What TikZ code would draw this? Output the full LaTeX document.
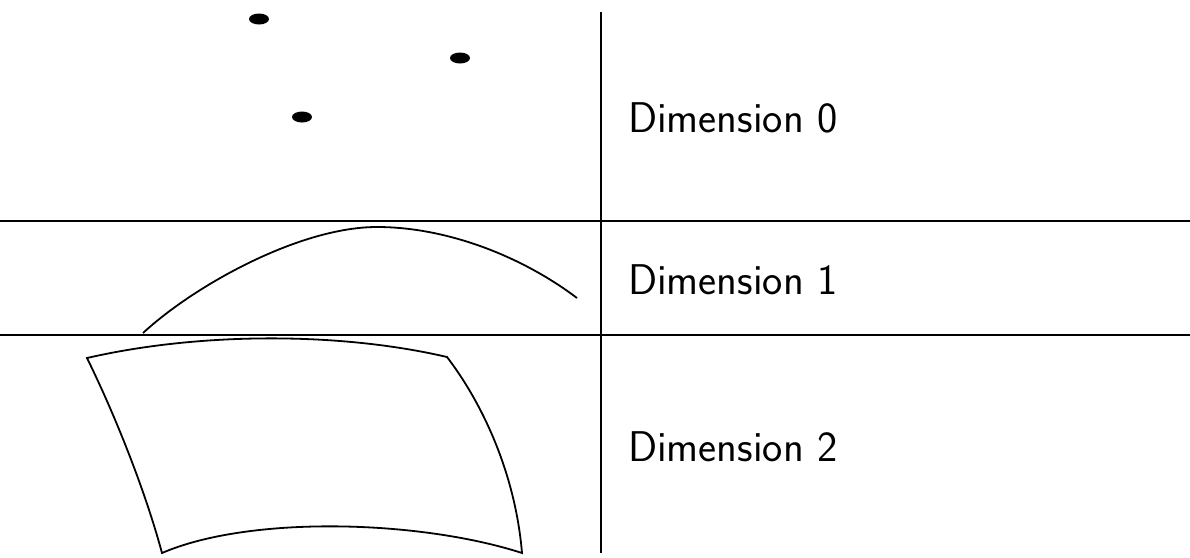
\documentclass[tikz,border=0pt]{standalone}
\begin{document}
\begin{tikzpicture}[x=1pt,y=-1pt,
  rule/.style={line width=1.3pt},
  figline/.style={line width=1.8pt},
  lbl/.style={anchor=base west,font=\sffamily\fontsize{43}{50}\selectfont,inner sep=0pt}]
\useasboundingbox (0,0) rectangle (1190,557);
% grid lines
\coordinate (vt) at (601,12);
\coordinate (vb) at (601,553);
\coordinate (h1l) at (0,221);
\coordinate (h1r) at (1190,221);
\coordinate (h2l) at (0,335);
\coordinate (h2r) at (1190,335);
\draw[rule] (vt) -- (vb);
\draw[rule] (h1l) -- (h1r);
\draw[rule] (h2l) -- (h2r);
% dimension 0 points
\fill (259,19) ellipse (10pt and 5.5pt);
\fill (460,58) ellipse (10pt and 5.5pt);
\fill (302,117) ellipse (10pt and 5.5pt);
% dimension 1 curve
\coordinate (c0) at (143,333);
\coordinate (c1) at (377,227);
\coordinate (c2) at (577,298);
\draw[figline] (c0) .. controls (195,285) and (300,227) .. (c1)
  .. controls (445,227) and (520,255) .. (c2);
% dimension 2 surface
\coordinate (s1) at (87,358);
\coordinate (s2) at (447,357);
\coordinate (s3) at (522,553);
\coordinate (s4) at (162,553);
\draw[figline,line join=miter] (s1) .. controls (200,332) and (340,332) .. (s2)
  .. controls (480,400) and (515,470) .. (s3)
  .. controls (420,520) and (250,515) .. (s4)
  .. controls (145,490) and (115,415) .. (s1) -- cycle;
% labels
\node[lbl] (d0) at (628,132) {Dimension 0};
\node[lbl] (d1) at (628,294) {Dimension 1};
\node[lbl] (d2) at (628,461) {Dimension 2};
\end{tikzpicture}
\end{document}
